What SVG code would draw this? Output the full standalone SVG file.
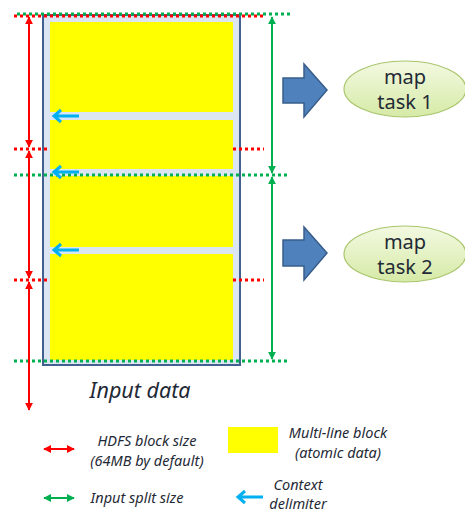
<svg xmlns="http://www.w3.org/2000/svg" width="465" height="512" viewBox="0 0 465 512">
<style>
.red{stroke:#ff0000;stroke-width:3;stroke-dasharray:3 3;fill:none}
.grn{stroke:#00b050;stroke-width:3;stroke-dasharray:3 3;fill:none}
.ra{stroke:#ff0000;stroke-width:2;fill:none;marker-start:url(#rh);marker-end:url(#rh)}
.ga{stroke:#00b050;stroke-width:2;fill:none;marker-start:url(#gh);marker-end:url(#gh)}
.ba{stroke:#00b0f0;stroke-width:3;fill:none}
.blk{fill:#ffff00}
.big{fill:#4f81bd;stroke:#385d8a;stroke-width:1.5}
.lbl{font-family:"Noto Sans","Open Sans",sans-serif;font-size:20px;fill:#1f2a36;text-anchor:middle}
.it{font-family:"Noto Sans","Open Sans",sans-serif;font-style:italic;font-size:14.5px;fill:#1f2a36;text-anchor:middle}
</style>
<defs>
<marker id="rh" viewBox="0 0 10 10" refX="9" refY="5" markerWidth="4" markerHeight="4" orient="auto-start-reverse" markerUnits="strokeWidth"><path d="M0,0 L10,5 L0,10 z" fill="#ff0000"/></marker>
<marker id="gh" viewBox="0 0 10 10" refX="9" refY="5" markerWidth="4" markerHeight="4" orient="auto-start-reverse" markerUnits="strokeWidth"><path d="M0,0 L10,5 L0,10 z" fill="#00b050"/></marker>
<linearGradient id="eg" x1="0" y1="0" x2="0" y2="1"><stop offset="0" stop-color="#f3f9e2"/><stop offset="1" stop-color="#d6eaa6"/></linearGradient>
</defs>

<g id="input-data">
<rect x="43" y="15" width="197" height="350" fill="#dce6f2" stroke="#43618f" stroke-width="2"/>
<rect class="blk" x="50" y="22" width="183" height="90"/>
<rect class="blk" x="50" y="120" width="183" height="49"/>
<rect class="blk" x="50" y="176" width="183" height="71"/>
<rect class="blk" x="50" y="254" width="183" height="106"/>
<text x="140" y="398" font-family="Noto Sans, Open Sans, sans-serif" font-style="italic" font-size="21.5" fill="#1f2a36" text-anchor="middle">Input data</text>
</g>

<g id="connectors">
<!-- red dotted block boundaries -->
<line class="red" x1="14" y1="16" x2="264" y2="16"/>
<line class="red" x1="14" y1="149" x2="49" y2="149"/>
<line class="red" x1="233" y1="149" x2="264" y2="149"/>
<line class="red" x1="14" y1="280" x2="49" y2="280"/>
<line class="red" x1="233" y1="280" x2="264" y2="280"/>
<!-- green dotted split boundaries -->
<line class="grn" x1="17" y1="14" x2="290" y2="14" stroke-dasharray="4 2"/>
<line class="grn" x1="14" y1="175" x2="290" y2="175"/>
<line class="grn" x1="14" y1="361" x2="290" y2="361"/>
<!-- red HDFS block arrows -->
<line class="ra" x1="29" y1="17" x2="29" y2="147"/>
<line class="ra" x1="29" y1="151" x2="29" y2="278"/>
<line class="ra" x1="29" y1="282" x2="29" y2="410"/>
<!-- green split arrows -->
<line class="ga" x1="272" y1="17" x2="272" y2="173"/>
<line class="ga" x1="272" y1="177" x2="272" y2="359"/>
<!-- context delimiters -->
<path class="ba" d="M79,116 H54 M61,110 L54,116 L61,122"/>
<path class="ba" d="M79,172 H54 M61,166 L54,172 L61,178"/>
<path class="ba" d="M79,250 H54 M61,244 L54,250 L61,256"/>
<!-- block arrows -->
<path class="big" d="M283,78 H304 V64 L327,90 L304,117 V103 H283 Z"/>
<path class="big" d="M283,240 H304 V227 L327,253 L304,280 V266 H283 Z"/>
</g>

<g id="map-task-1">
<ellipse cx="405" cy="89" rx="61" ry="28" fill="url(#eg)" stroke="#a9c56d" stroke-width="1.2"/>
<text class="lbl" x="405" y="84">map</text>
<text class="lbl" x="405" y="109">task 1</text>
</g>

<g id="map-task-2">
<ellipse cx="405" cy="254" rx="61" ry="28" fill="url(#eg)" stroke="#a9c56d" stroke-width="1.2"/>
<text class="lbl" x="405" y="249">map</text>
<text class="lbl" x="405" y="274">task 2</text>
</g>

<g id="legend">
<line class="ra" x1="44" y1="449" x2="74" y2="449"/>
<text class="it" x="147" y="446">HDFS block size</text>
<text class="it" x="147" y="466">(64MB by default)</text>
<rect class="blk" x="228" y="427" width="50" height="26"/>
<text class="it" x="338" y="438">Multi-line block</text>
<text class="it" x="338" y="458">(atomic data)</text>
<line class="ga" x1="44" y1="498" x2="74" y2="498"/>
<text class="it" x="137" y="503">Input split size</text>
<path class="ba" d="M263,497 H238 M245,491 L238,497 L245,503" stroke-width="2.5"/>
<text class="it" x="298" y="490">Context</text>
<text class="it" x="298" y="509">delimiter</text>
</g>
</svg>
